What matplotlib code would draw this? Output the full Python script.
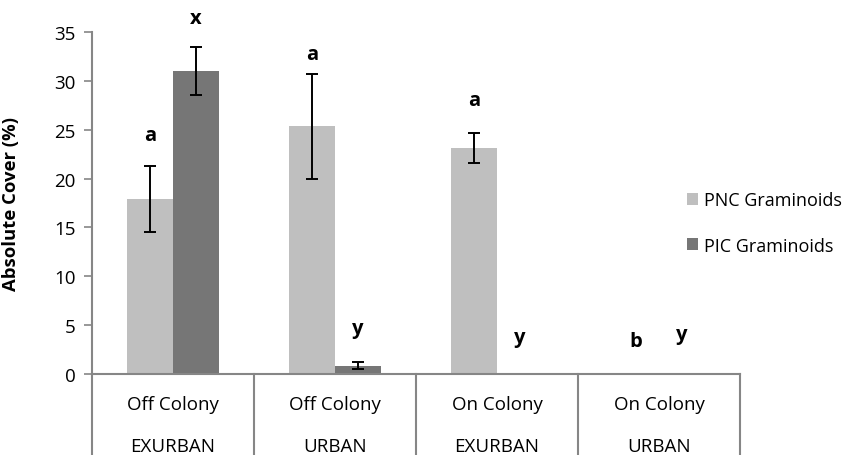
import numpy as np
import matplotlib.pyplot as plt

plt.rcParams['font.family'] = ['Open Sans', 'DejaVu Sans']

# site groups: colony position / landscape
positions = ['Off Colony', 'Off Colony', 'On Colony', 'On Colony']
landscapes = ['EXURBAN', 'URBAN', 'EXURBAN', 'URBAN']

# absolute cover (%) and standard errors
pnc_mean = [17.9, 25.35, 23.1, 0.0]
pnc_err = [3.4, 5.35, 1.55, 0.0]
pic_mean = [31.0, 0.85, 0.0, 0.0]
pic_err = [2.45, 0.34, 0.0, 0.0]

# significance letters
pnc_letters = ['a', 'a', 'a', 'b']
pic_letters = ['x', 'y', 'y', 'y']
pnc_letter_y = [23.9, 32.2, 27.5, 2.9]
pic_letter_y = [35.9, 4.2, 3.3, 3.6]

pnc_color = '#bfbfbf'
pic_color = '#767676'
axis_color = '#868686'
fs = 13.5

fig = plt.figure(figsize=(8.51, 4.56), dpi=100)
ax = fig.add_axes([92 / 851, 1 - 375 / 456, 648 / 851, 342 / 456])

x = np.arange(len(positions))
w = 0.284

ax.bar(x - w / 2, pnc_mean, w, color=pnc_color, label='PNC Graminoids')
ax.bar(x + w / 2, pic_mean, w, color=pic_color, label='PIC Graminoids')

# error bars only where there is something to show
for i in range(len(x)):
    if pnc_err[i] > 0:
        ax.errorbar(x[i] - w / 2, pnc_mean[i], yerr=pnc_err[i], fmt='none',
                    ecolor='black', elinewidth=1.4, capsize=4.5, capthick=1.4)
    if pic_err[i] > 0:
        ax.errorbar(x[i] + w / 2, pic_mean[i], yerr=pic_err[i], fmt='none',
                    ecolor='black', elinewidth=1.4, capsize=4.5, capthick=1.4)

for i in range(len(x)):
    ax.text(x[i] - w / 2, pnc_letter_y[i], pnc_letters[i], ha='center', va='baseline',
            fontsize=14.5, fontweight='bold', clip_on=False)
    ax.text(x[i] + w / 2, pic_letter_y[i], pic_letters[i], ha='center', va='baseline',
            fontsize=14.5, fontweight='bold', clip_on=False)

ax.set_xlim(-0.5, len(x) - 0.5)
ax.set_ylim(0, 35)
ax.set_yticks(np.arange(0, 36, 5))
ax.set_xticks([])
ax.tick_params(axis='y', direction='out', length=6, width=1.2, color=axis_color,
               labelsize=fs, pad=6)

for side in ['top', 'right']:
    ax.spines[side].set_visible(False)
for side in ['left', 'bottom']:
    ax.spines[side].set_color(axis_color)
    ax.spines[side].set_linewidth(1.5)

# category box lines below the axis
ext = -81 / 342
for b in np.arange(-0.5, len(x), 1.0):
    ax.plot([b, b], [0, ext], color=axis_color, lw=1.5, clip_on=False,
            transform=ax.get_xaxis_transform())

for i in range(len(x)):
    ax.text(x[i], -30 / 342, positions[i], ha='center', va='center', fontsize=fs,
            transform=ax.get_xaxis_transform())
    ax.text(x[i], -72 / 342, landscapes[i], ha='center', va='center', fontsize=fs,
            transform=ax.get_xaxis_transform())

ax.set_ylabel('Absolute Cover (%)', fontsize=13.3, fontweight='bold')
ax.yaxis.set_label_coords(-72 / 648, 0.5)

fig.legend(loc='center left', bbox_to_anchor=(687 / 851, 1 - 224 / 456), frameon=False,
           fontsize=13, handlelength=0.6, handleheight=0.6, handletextpad=0.35,
           labelspacing=1.5, borderpad=0, borderaxespad=0)

fig.savefig('out.png', dpi=100)
